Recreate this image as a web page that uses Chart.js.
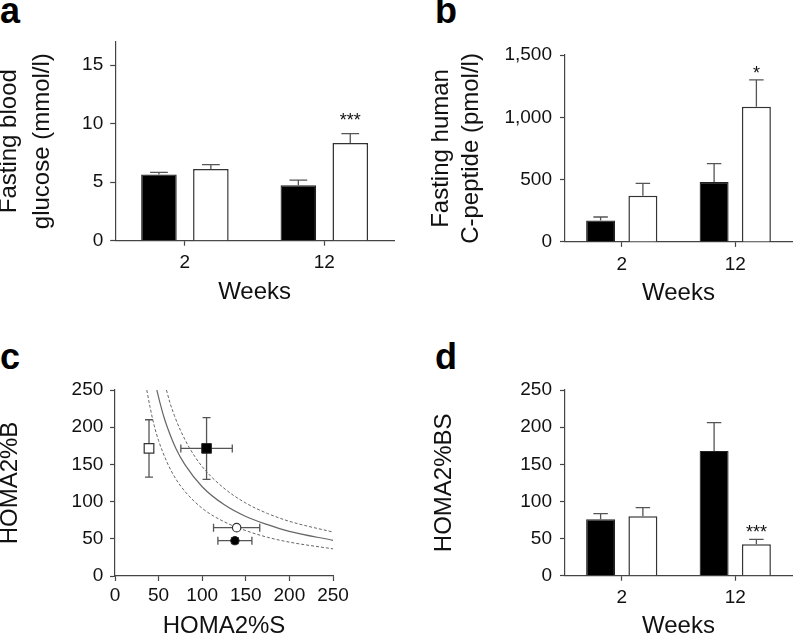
<!DOCTYPE html>
<html>
<head>
<meta charset="utf-8">
<script src="https://cdn.jsdelivr.net/npm/chart.js@4.4.0/dist/chart.umd.min.js"></script>
<style>
  body { margin: 0; background: #fff; width: 793px; height: 637px; position: relative; overflow: hidden; }
  canvas { position: absolute; }
  .lbl { position: absolute; font: bold 36px/36px "Liberation Sans", Arial, sans-serif; color: #000; }
</style>
</head>
<body>
<div class="lbl" style="left:0px;top:-7px">a</div>
<div class="lbl" style="left:435px;top:-7px">b</div>
<div class="lbl" style="left:0px;top:339px">c</div>
<div class="lbl" style="left:435px;top:339px">d</div>
<canvas id="chartA" width="400" height="310" style="left:0;top:0"></canvas>
<canvas id="chartB" width="393" height="310" style="left:400px;top:0"></canvas>
<canvas id="chartC" width="400" height="327" style="left:0;top:310px"></canvas>
<canvas id="chartD" width="393" height="327" style="left:400px;top:310px"></canvas>
<script>
const weeks = ['2', '12'];

// a: fasting blood glucose (mmol/l), mean and upper SEM
const glucoseBlack = [5.65, 4.74];
const glucoseBlackErr = [0.18, 0.43];
const glucoseWhite = [6.13, 8.35];
const glucoseWhiteErr = [0.37, 0.8];
const glucoseStars = ['', '***'];

// b: fasting human C-peptide (pmol/l)
const cpepBlack = [172, 481];
const cpepBlackErr = [28, 147];
const cpepWhite = [371, 1085];
const cpepWhiteErr = [99, 215];
const cpepStars = ['', '*'];

// c: HOMA2 %S (x) against %B (y); index 0 = week 2 (circles), 1 = week 12 (squares)
const homaSBlack = [137.5, 105];
const homaSBlackErr = [19.5, 29.5];
const homaBBlack = [47.5, 171.5];
const homaBBlackErr = [4, 41.5];
const homaSWhite = [139.5, 39];
const homaSWhiteErr = [26.5, 0];
const homaBWhite = [65, 171.5];
const homaBWhiteErr = [0, 38.5];

// reference curves of panel c
const curveLowS = [36.5, 40, 45, 50, 60, 70, 80, 100, 125, 150, 175, 200, 250];
const curveLowB = [250, 228, 202, 182, 152, 130, 114, 91, 73, 61, 52, 45.5, 36.5];
const curveMidS = [48, 52, 56, 60, 70, 80, 100, 125, 150, 175, 200, 250];
const curveMidB = [250, 231, 214, 200, 171, 150, 120, 96, 80, 69, 60, 48];
const curveHighS = [59, 63, 68, 75, 85, 100, 125, 150, 175, 200, 250];
const curveHighB = [250, 233, 216, 196, 173, 147, 118, 98, 84, 73.5, 59];

// d: HOMA2 %BS
const bsBlack = [76, 168];
const bsBlackErr = [7.6, 38];
const bsWhite = [80, 42.3];
const bsWhiteErr = [11.6, 6.7];
const bsStars = ['', '***'];

const FONT = '"Liberation Sans", Arial, sans-serif';
const AXIS = '#444';
const TEXT = '#111';

// upper error bars (and significance stars) on top of bars
const barErrors = {
  id: 'barErrors',
  afterDatasetsDraw(chart, args, opts) {
    const ctx = chart.ctx;
    const y = chart.scales.y;
    ctx.save();
    ctx.strokeStyle = '#555';
    ctx.lineWidth = 1.3;
    chart.data.datasets.forEach((ds, i) => {
      chart.getDatasetMeta(i).data.forEach((bar, j) => {
        const top = y.getPixelForValue(ds.data[j] + ds.errors[j]);
        const half = bar.width / 4;
        ctx.beginPath();
        ctx.moveTo(bar.x, bar.y);
        ctx.lineTo(bar.x, top);
        ctx.moveTo(bar.x - half, top);
        ctx.lineTo(bar.x + half, top);
        ctx.stroke();
        if (ds.stars && ds.stars[j]) {
          ctx.fillStyle = TEXT;
          ctx.font = '18px ' + FONT;
          ctx.textAlign = 'center';
          ctx.textBaseline = 'alphabetic';
          ctx.fillText(ds.stars[j], bar.x, top - opts.starGap);
        }
      });
    });
    ctx.restore();
  }
};

// x/y error bars behind the scatter markers
const xyErrors = {
  id: 'xyErrors',
  beforeDatasetsDraw(chart) {
    const ctx = chart.ctx;
    const xs = chart.scales.x, ys = chart.scales.y;
    const cap = 4;
    ctx.save();
    ctx.strokeStyle = '#555';
    ctx.lineWidth = 1.3;
    chart.data.datasets.forEach(ds => {
      if (!ds.xErr) return;
      ds.data.forEach((p, j) => {
        const px = xs.getPixelForValue(p.x), py = ys.getPixelForValue(p.y);
        ctx.beginPath();
        if (ds.xErr[j]) {
          const l = xs.getPixelForValue(p.x - ds.xErr[j]);
          const r = xs.getPixelForValue(p.x + ds.xErr[j]);
          ctx.moveTo(l, py); ctx.lineTo(r, py);
          ctx.moveTo(l, py - cap); ctx.lineTo(l, py + cap);
          ctx.moveTo(r, py - cap); ctx.lineTo(r, py + cap);
        }
        if (ds.yErr[j]) {
          const t = ys.getPixelForValue(p.y + ds.yErr[j]);
          const b = ys.getPixelForValue(p.y - ds.yErr[j]);
          ctx.moveTo(px, t); ctx.lineTo(px, b);
          ctx.moveTo(px - cap, t); ctx.lineTo(px + cap, t);
          ctx.moveTo(px - cap, b); ctx.lineTo(px + cap, b);
        }
        ctx.stroke();
      });
    });
    ctx.restore();
  }
};

function axis(extra) {
  return Object.assign({
    grid: { display: true, drawOnChartArea: false, drawTicks: true, tickLength: 5, tickColor: AXIS, tickWidth: 1.2, offset: false },
    border: { display: true, color: AXIS, width: 1.2 },
  }, extra);
}

function tickFont(pad) {
  return { color: TEXT, font: { family: FONT, size: 19 }, padding: pad };
}

function title(text, lineHeight, padding) {
  return { display: true, text: text, color: TEXT, font: { family: FONT, size: 24, lineHeight: lineHeight }, padding: padding };
}

function barChart(id, g, black, blackErr, white, whiteErr, stars, yTicks, yTitle) {
  return new Chart(document.getElementById(id), {
    type: 'bar',
    data: {
      labels: weeks,
      datasets: [
        { data: black, errors: blackErr, backgroundColor: '#000', borderColor: '#222', borderWidth: 1.2,
          categoryPercentage: 0.745, barPercentage: 0.685 },
        { data: white, errors: whiteErr, stars: stars, backgroundColor: '#fff', borderColor: '#333', borderWidth: 1.5,
          categoryPercentage: 0.745, barPercentage: 0.685 }
      ]
    },
    options: {
      responsive: false,
      animation: false,
      events: [],
      locale: 'en-US',
      layout: { padding: { top: g.top, right: g.right, bottom: 0, left: 0 } },
      plugins: { legend: { display: false }, tooltip: { enabled: false }, barErrors: { starGap: g.starGap } },
      scales: {
        x: axis({
          type: 'category', offset: true,
          ticks: tickFont(g.xPad),
          title: title('Weeks', 1.2, { top: 0, bottom: g.xTitlePad }),
          afterFit: s => { s.height = g.xHeight; }
        }),
        y: axis({
          min: 0, max: yTicks.max,
          ticks: Object.assign(tickFont(g.yPad), { stepSize: yTicks.step, includeBounds: false }),
          title: title(yTitle, g.yLine, { top: g.yTitlePad, bottom: 0 }),
          afterFit: s => { s.width = g.yWidth; }
        })
      }
    },
    plugins: [barErrors]
  });
}

barChart('chartA',
  { top: 41.7, right: 6, xHeight: 69.3, yWidth: 115.2, xPad: 6, yPad: 7, xTitlePad: 3.6, yLine: 33 / 24, yTitlePad: -7, starGap: 8 },
  glucoseBlack, glucoseBlackErr, glucoseWhite, glucoseWhiteErr, glucoseStars,
  { max: 17, step: 5 }, ['Fasting blood', 'glucose (mmol/l)']);

barChart('chartB',
  { top: 55, right: 1, xHeight: 68.1, yWidth: 165, xPad: 6, yPad: 8, xTitlePad: 2.2, yLine: 29.4 / 24, yTitlePad: 27, starGap: 1 },
  cpepBlack, cpepBlackErr, cpepWhite, cpepWhiteErr, cpepStars,
  { max: 1500, step: 500 }, ['Fasting human', 'C-peptide (pmol/l)']);

barChart('chartD',
  { top: 80, right: 1, xHeight: 61.3, yWidth: 165, xPad: 5.7, yPad: 8, xTitlePad: -4.1, yLine: 1.2, yTitlePad: 29.5, starGap: 1 },
  bsBlack, bsBlackErr, bsWhite, bsWhiteErr, bsStars,
  { max: 250, step: 50 }, 'HOMA2%BS');

function curve(xs, ys, dashed) {
  return {
    type: 'line',
    data: xs.map((x, i) => ({ x: x, y: ys[i] })),
    borderColor: '#666', borderWidth: dashed ? 1 : 1.2, borderDash: dashed ? [3, 2] : [],
    pointRadius: 0, cubicInterpolationMode: 'monotone', fill: false, order: 2
  };
}

new Chart(document.getElementById('chartC'), {
  type: 'scatter',
  data: {
    datasets: [
      { data: homaSBlack.map((s, i) => ({ x: s, y: homaBBlack[i] })), xErr: homaSBlackErr, yErr: homaBBlackErr,
        backgroundColor: '#000', borderColor: '#222', borderWidth: 1,
        pointStyle: ['circle', 'rect'], pointRadius: [4.2, 6.8], order: 0 },
      { data: homaSWhite.map((s, i) => ({ x: s, y: homaBWhite[i] })), xErr: homaSWhiteErr, yErr: homaBWhiteErr,
        backgroundColor: '#fff', borderColor: '#333', borderWidth: 1.2,
        pointStyle: ['circle', 'rect'], pointRadius: [4.2, 6.8], order: 0 },
      curve(curveLowS, curveLowB, true),
      curve(curveMidS, curveMidB, false),
      curve(curveHighS, curveHighB, true)
    ]
  },
  options: {
    responsive: false,
    animation: false,
    events: [],
    layout: { padding: { top: 80, right: 67, bottom: 0, left: 0 } },
    plugins: { legend: { display: false }, tooltip: { enabled: false } },
    scales: {
      x: axis({
        type: 'linear', min: 0, max: 250,
        ticks: Object.assign(tickFont(3.5), { stepSize: 50 }),
        title: title('HOMA2%S', 1.2, { top: 0, bottom: -4.1 }),
        afterFit: s => { s.height = 61; }
      }),
      y: axis({
        type: 'linear', min: 0, max: 250,
        ticks: Object.assign(tickFont(6.7), { stepSize: 50 }),
        title: title('HOMA2%B', 1.2, { top: -4.4, bottom: 0 }),
        afterFit: s => { s.width = 115; }
      })
    }
  },
  plugins: [xyErrors]
});
</script>
</body>
</html>
